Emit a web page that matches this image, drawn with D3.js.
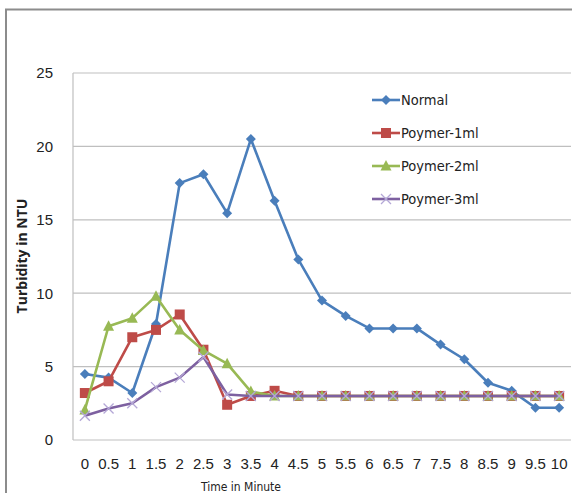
<!DOCTYPE html>
<html><head><meta charset="utf-8">
<script src="https://cdn.jsdelivr.net/npm/d3@7/dist/d3.min.js"></script>
<style>
html,body{margin:0;padding:0;background:#fff;}
svg{display:block;font-family:"Liberation Sans Narrow","DejaVu Sans Condensed",sans-serif;}
</style></head><body>
<svg id="c" width="572" height="493"></svg>
<script>
const categories = ["0","0.5","1","1.5","2","2.5","3","3.5","4","4.5","5","5.5","6","6.5","7","7.5","8","8.5","9","9.5","10"];
const normal  = [4.5,4.25,3.2,7.9,17.5,18.1,15.45,20.5,16.3,12.3,9.5,8.45,7.6,7.6,7.6,6.5,5.5,3.9,3.35,2.2,2.2];
const poly1ml = [3.2,4.0,7.0,7.5,8.55,6.15,2.4,3.0,3.35,3.0,3.0,3.0,3.0,3.0,3.0,3.0,3.0,3.0,3.0,3.0,3.0];
const poly2ml = [2.05,7.75,8.3,9.8,7.5,6.1,5.2,3.3,3.0,3.0,3.0,3.0,3.0,3.0,3.0,3.0,3.0,3.0,3.0,3.0,3.0];
const poly3ml = [1.65,2.15,2.5,3.6,4.25,5.65,3.1,3.0,3.0,3.0,3.0,3.0,3.0,3.0,3.0,3.0,3.0,3.0,3.0,3.0,3.0];
const yTicks = [0,5,10,15,20,25];
const seriesNames = ["Normal","Poymer-1ml","Poymer-2ml","Poymer-3ml"];

const series = [
  {name:seriesNames[0], values:normal,  color:"#4a7ebb", marker:"diamond"},
  {name:seriesNames[1], values:poly1ml, color:"#be4b48", marker:"square"},
  {name:seriesNames[2], values:poly2ml, color:"#98b954", marker:"triangle"},
  {name:seriesNames[3], values:poly3ml, color:"#7d60a0", marker:"x"}
];

const svg = d3.select("#c");
const L = 73, R = 571, T = 73, B = 440;

// outer frame
svg.append("rect").attr("x",6).attr("y",9.5).attr("width",600).attr("height",600)
  .attr("fill","none").attr("stroke","#8c8c8c").attr("stroke-width",2);

const x = d3.scaleBand().domain(categories).range([L,R]);
const y = d3.scaleLinear().domain([0,25]).range([B,T]);

// gridlines
svg.append("g").selectAll("line").data(yTicks).join("line")
  .attr("x1",L).attr("x2",R).attr("y1",d=>y(d)).attr("y2",d=>y(d))
  .attr("stroke","#bfbfbf").attr("stroke-width",1.2);
// left axis line
svg.append("line").attr("x1",L).attr("x2",L).attr("y1",T).attr("y2",B)
  .attr("stroke","#bfbfbf").attr("stroke-width",1.2);

// y axis labels
const yAxis = d3.axisLeft(y).tickValues(yTicks).tickSize(0).tickPadding(20);
const gy = svg.append("g").attr("transform",`translate(${L},0)`).call(yAxis);
gy.select(".domain").remove();
gy.selectAll("text").attr("font-size",15).attr("fill","#222").attr("font-family","inherit");

// x axis labels
const xAxis = d3.axisBottom(x).tickSize(0).tickPadding(18);
const gx = svg.append("g").attr("transform",`translate(0,${B})`).call(xAxis);
gx.select(".domain").remove();
gx.selectAll("text").attr("font-size",15).attr("fill","#222").attr("font-family","inherit");

// axis titles
svg.append("text").attr("x",241).attr("y",491).attr("text-anchor","middle")
  .attr("font-size",12).attr("fill","#222").text("Time in Minute");
svg.append("text").attr("transform","translate(27,256) rotate(-90)").attr("text-anchor","middle")
  .attr("font-size",14).attr("font-weight","bold").attr("fill","#222")
  .attr("font-family","'Open Sans',sans-serif").text("Turbidity in NTU");

const cx = i => x(categories[i]) + x.bandwidth()/2;

function drawMarker(g, type, px, py, color){
  if(type==="diamond"){
    g.append("path").attr("d",`M${px},${py-5}L${px+5},${py}L${px},${py+5}L${px-5},${py}Z`).attr("fill",color);
  } else if(type==="square"){
    g.append("rect").attr("x",px-5).attr("y",py-5).attr("width",10).attr("height",10).attr("fill",color);
  } else if(type==="triangle"){
    g.append("path").attr("d",`M${px},${py-6}L${px+5.5},${py+4.5}L${px-5.5},${py+4.5}Z`).attr("fill",color);
  } else {
    g.append("path").attr("d",`M${px-5},${py-5}L${px+5},${py+5}M${px-5},${py+5}L${px+5},${py-5}`)
      .attr("stroke","#b4a7d6").attr("stroke-width",1.3);
  }
}

const line = d3.line().x((d,i)=>cx(i)).y(d=>y(d));
series.forEach(s=>{
  const g = svg.append("g");
  g.append("path").attr("d",line(s.values)).attr("fill","none")
    .attr("stroke",s.color).attr("stroke-width",2.6).attr("stroke-linejoin","round");
  s.values.forEach((v,i)=>drawMarker(g,s.marker,cx(i),y(v),s.color));
});

// legend
const legY = [100,133,166,199];
series.forEach((s,i)=>{
  const g = svg.append("g");
  g.append("line").attr("x1",372).attr("x2",400).attr("y1",legY[i]).attr("y2",legY[i])
    .attr("stroke",s.color).attr("stroke-width",2.6);
  drawMarker(g,s.marker,386,legY[i],s.color);
  g.append("text").attr("x",401).attr("y",legY[i]).attr("dy","0.35em")
    .attr("font-size",14.5).attr("fill","#222").text(s.name);
});
</script>
</body></html>
